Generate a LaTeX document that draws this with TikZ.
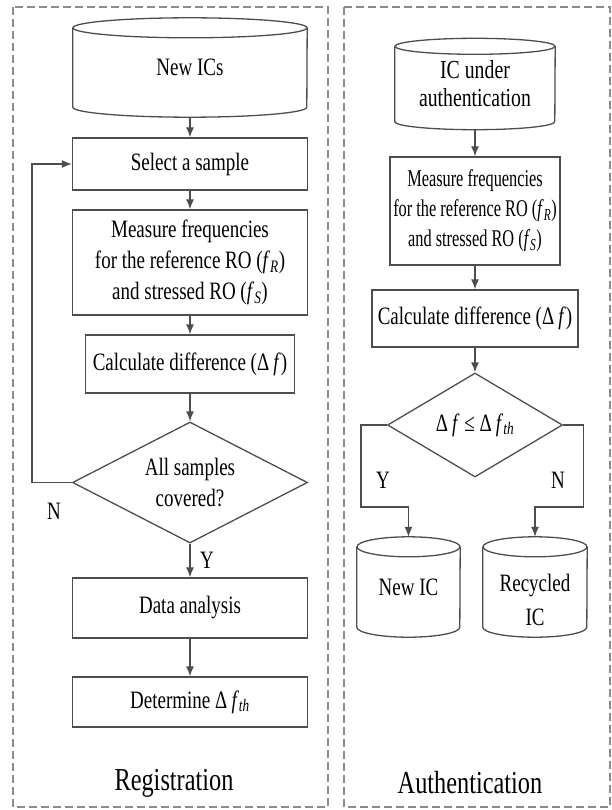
\documentclass[tikz,border=0pt]{standalone}
\usepackage{fontspec}
\setmainfont{Liberation Serif}[FakeStretch=0.76]
\usetikzlibrary{arrows.meta,shapes.geometric}
\definecolor{linegray}{HTML}{4D4D4D}
\definecolor{framegray}{HTML}{8C8C8C}
\newcommand\freqR{\textit{f}\textsubscript{\textit{R}}}
\newcommand\freqS{\textit{f}\textsubscript{\textit{S}}}
\newcommand\dfreq{Δ\,\textit{f}}
\newcommand\dfreqth{Δ\,\textit{f}\textsubscript{\textit{th}}}
\tikzset{
  box/.style={draw=linegray, line width=1.3pt, align=center, inner sep=0pt,
    font=\fontsize{25}{31}\selectfont},
  decision/.style={box, diamond, aspect=2},
  dbbody/.style={align=center, inner sep=0pt, font=\fontsize{25}{31}\selectfont},
  cyl/.style={draw=linegray, line width=1.3pt},
  arr/.style={draw=linegray, line width=1.3pt, -{Latex[length=10pt,width=8pt]}},
  frame/.style={draw=framegray, line width=1.3pt, dash pattern=on 8pt off 4pt},
  yn/.style={font=\fontsize{25}{31}\selectfont},
  title/.style={font=\fontsize{32}{38}\selectfont},
}
\begin{document}
\begin{tikzpicture}[x=1pt,y=-1pt]
\useasboundingbox (0,0) rectangle (612,810);
% frames
\draw[frame] (13,7) rectangle (328,807);
\draw[frame] (344,7) rectangle (610,807);
% registration column
\node[dbbody, minimum width=234pt, minimum height=79pt] (newics) at (190,67.5) {New ICs};
\node[box, minimum width=235pt, minimum height=52pt] (sel) at (190,164) {Select a sample};
\node[box, minimum width=235pt, minimum height=105pt] (meas1) at (190,262.5)
  {Measure frequencies\\for the reference RO (\freqR)\\and stressed RO (\freqS)};
\node[box, minimum width=209pt, minimum height=58pt] (calc1) at (190,364) {Calculate difference (\dfreq)};
\node[decision, minimum width=235pt, minimum height=121pt] (dia1) at (190,482.5) {All samples\\covered?};
\node[box, minimum width=235pt, minimum height=60pt] (data) at (190,608) {Data analysis};
\node[box, minimum width=235pt, minimum height=50pt] (det) at (190,702) {Determine \dfreqth};
\node[title] (reg) at (174,783) {Registration};
% cylinder New ICs
\draw[cyl] (newics.north west) -- (newics.south west)
  arc[start angle=180, end angle=360, x radius=117pt, y radius=10pt] -- (newics.north east);
\draw[cyl] (newics.north) ellipse[x radius=117pt, y radius=10pt];
% arrows
\draw[arr] ([yshift=-10pt]newics.south) -- (sel);
\draw[arr] (sel) -- (meas1);
\draw[arr] (meas1) -- (calc1);
\draw[arr] (calc1) -- (dia1);
\draw[arr] (dia1) -- (data);
\draw[arr] (data) -- (det);
\draw[arr] (dia1.west) -- ++(-40,0) |- (sel.west);
\node[yn] (y1) at (207,560) {Y};
\node[yn] (n1) at (54,511) {N};
% authentication column
\node[dbbody, minimum width=160pt, minimum height=75pt, font=\fontsize{26}{28}\selectfont] (icauth) at (475,84)
  {IC under\\authentication};
\node[box, minimum width=170pt, minimum height=108pt,
  font=\fontsize{24}{30}\selectfont\addfontfeature{FakeStretch=0.68}] (meas2) at (475,211)
  {Measure frequencies\\for the reference RO (\freqR)\\and stressed RO (\freqS)};
\node[box, minimum width=206pt, minimum height=57pt] (calc2) at (475,318.5) {Calculate difference (\dfreq)};
\node[decision, minimum width=175pt, minimum height=104pt] (dia2) at (475,425) {\dfreq{} ≤ \dfreqth};
\node[dbbody, minimum width=103pt, minimum height=80pt] (newic) at (408.5,587) {New IC};
\node[dbbody, minimum width=104pt, minimum height=106pt, font=\fontsize{25}{34}\selectfont] (recic) at (535,600)
  {Recycled\\IC};
\node[title] (auth) at (470,783) {Authentication};
% cylinders
\draw[cyl] (icauth.north west) -- (icauth.south west)
  arc[start angle=180, end angle=360, x radius=80pt, y radius=8pt] -- (icauth.north east);
\draw[cyl] (icauth.north) ellipse[x radius=80pt, y radius=8pt];
\draw[cyl] (newic.north west) -- (newic.south west)
  arc[start angle=180, end angle=360, x radius=51.5pt, y radius=10pt] -- (newic.north east);
\draw[cyl] (newic.north) ellipse[x radius=51.5pt, y radius=10pt];
\draw[cyl] (recic.north west) -- (recic.north west |- newic.south)
  arc[start angle=180, end angle=360, x radius=52pt, y radius=10pt] -- (recic.north east);
\draw[cyl] (recic.north) ellipse[x radius=52pt, y radius=10pt];
% arrows
\draw[arr] ([yshift=-8pt]icauth.south) -- (meas2);
\draw[arr] (meas2) -- (calc2);
\draw[arr] (calc2) -- (dia2);
\draw[arr] (dia2.west) -- ++(-26,0) -- ++(0,82) -| ([yshift=10pt]newic.north);
\draw[arr] (dia2.east) -- ++(20,0) -- ++(0,82) -| ([yshift=10pt]recic.north);
\node[yn] (y2) at (383,480) {Y};
\node[yn] (n2) at (558,480) {N};
\end{tikzpicture}
\end{document}
